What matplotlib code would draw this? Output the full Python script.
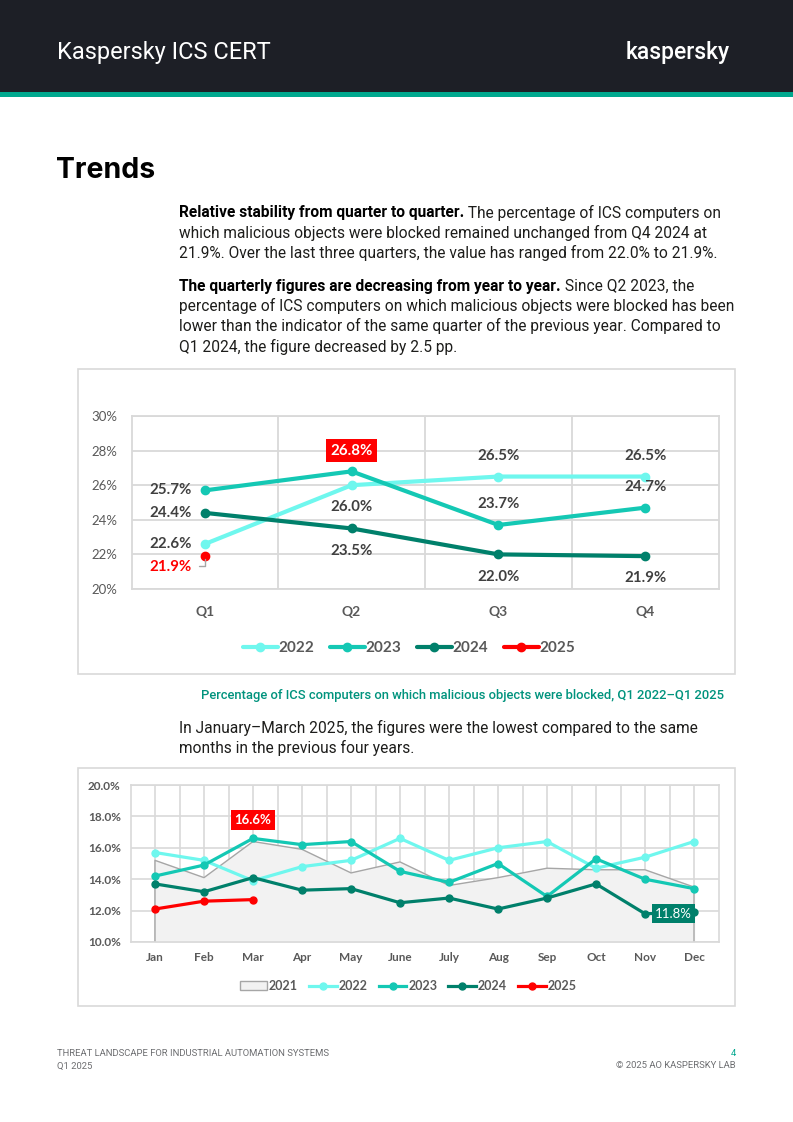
import matplotlib
matplotlib.use("Agg")
import matplotlib.pyplot as plt
from matplotlib.patches import Rectangle, Patch
from matplotlib.lines import Line2D
from matplotlib.ticker import FuncFormatter, FixedLocator

W, H = 793, 1122

# ---- data -------------------------------------------------------------------
quarters = ["Q1", "Q2", "Q3", "Q4"]
q_2022 = [22.6, 26.0, 26.5, 26.5]
q_2023 = [25.7, 26.8, 23.7, 24.7]
q_2024 = [24.4, 23.5, 22.0, 21.9]
q_2025 = [21.9]

months = ["Jan", "Feb", "Mar", "Apr", "May", "June", "July", "Aug", "Sep", "Oct", "Nov", "Dec"]
m_2021 = [15.2, 14.1, 16.4, 15.9, 14.4, 15.1, 13.6, 14.1, 14.7, 14.6, 14.6, 13.5]
m_2022 = [15.7, 15.2, 13.9, 14.8, 15.2, 16.6, 15.2, 16.0, 16.4, 14.7, 15.4, 16.4]
m_2023 = [14.2, 14.9, 16.6, 16.2, 16.4, 14.5, 13.8, 15.0, 12.9, 15.3, 14.0, 13.4]
m_2024 = [13.7, 13.2, 14.1, 13.3, 13.4, 12.5, 12.8, 12.1, 12.8, 13.7, 11.8, 11.9]
m_2025 = [12.1, 12.6, 12.7]

C22, C23, C24, C25 = "#6ff7ee", "#14c8b4", "#00806b", "#ff0000"
GRID = "#d9d9d9"
LBL = "#404040"
TEAL = "#00a88e"
CHART_FONT = ["Lato", "DejaVu Sans"]
BODY_FONT = ["Roboto", "DejaVu Sans"]


def fx(x):
    return x / W


def fy(y):
    return 1 - y / H


fig = plt.figure(figsize=(W / 100, H / 100), dpi=100)
fig.patch.set_facecolor("white")

# ---- header -----------------------------------------------------------------
fig.add_artist(Rectangle((0, fy(92)), 1, 92 / H, transform=fig.transFigure,
                         facecolor="#1d1f26", edgecolor="none"))
fig.add_artist(Rectangle((0, fy(97)), 1, 5 / H, transform=fig.transFigure,
                         facecolor=TEAL, edgecolor="none"))
fig.text(fx(57), fy(52), "Kaspersky ICS CERT", color="white", fontsize=16.9,
         family=BODY_FONT, va="center", ha="left")
fig.text(fx(730), fy(52), "kaspersky", color="white", fontsize=16.5,
         family=BODY_FONT, va="center", ha="right", weight="medium")

fig.text(fx(56), fy(170), "Trends", color="black", fontsize=20.5,
         family=["Inter", "DejaVu Sans"], weight="bold", va="center", ha="left")

# ---- body text --------------------------------------------------------------
renderer = fig.canvas.get_renderer()
BODY_SIZE = 11.2


def body_line(y, text, bold_prefix=None):
    x = fx(179)
    if bold_prefix:
        t = fig.text(x, fy(y), bold_prefix, fontsize=BODY_SIZE, family=BODY_FONT,
                     weight="bold", va="center", ha="left", color="black")
        bb = t.get_window_extent(renderer=renderer)
        x = bb.x1 / W
    fig.text(x, fy(y), text, fontsize=BODY_SIZE, family=BODY_FONT,
             va="center", ha="left", color="#1d1d1b")


body_line(213, " The percentage of ICS computers on", "Relative stability from quarter to quarter.")
body_line(233, "which malicious objects were blocked remained unchanged from Q4 2024 at")
body_line(253, "21.9%. Over the last three quarters, the value has ranged from 22.0% to 21.9%.")
body_line(286, " Since Q2 2023, the", "The quarterly figures are decreasing from year to year.")
body_line(306, "percentage of ICS computers on which malicious objects were blocked has been")
body_line(326, "lower than the indicator of the same quarter of the previous year. Compared to")
body_line(347, "Q1 2024, the figure decreased by 2.5 pp.")
body_line(728, "In January\u2013March 2025, the figures were the lowest compared to the same")
body_line(748, "months in the previous four years.")

fig.text(fx(724), fy(695),
         "Percentage of ICS computers on which malicious objects were blocked, Q1 2022\u2013Q1 2025",
         color="#00937d", fontsize=9.4, family=BODY_FONT, weight="medium",
         va="center", ha="right")

# chart frames
for y0, y1 in [(369, 674), (768, 1006)]:
    fig.add_artist(Rectangle((fx(78), fy(y1)), (735 - 78) / W, (y1 - y0) / H,
                             transform=fig.transFigure, facecolor="none",
                             edgecolor=GRID, linewidth=1.2))

# ---- chart 1: quarterly -----------------------------------------------------
ax1 = fig.add_axes([fx(131.5), fy(589), (718.5 - 131.5) / W, (589 - 416) / H])
xq = list(range(len(quarters)))
for vals, col, yr in [(q_2022, C22, "2022"), (q_2023, C23, "2023"),
                      (q_2024, C24, "2024"), (q_2025, C25, "2025")]:
    ax1.plot(xq[:len(vals)], vals, color=col, lw=3, marker="o", ms=6, label=yr,
             solid_capstyle="round", zorder=3)
ax1.set_xlim(-0.5, 3.5)
ax1.set_ylim(20, 30)
ax1.set_yticks(range(20, 31, 2))
ax1.yaxis.set_major_formatter(FuncFormatter(lambda v, p: f"{v:.0f}%"))
ax1.set_xticks(xq)
ax1.set_xticklabels(quarters)
ax1.xaxis.set_minor_locator(FixedLocator([0.5, 1.5, 2.5]))
ax1.grid(True, axis="y", which="major", color=GRID, lw=1.3)
ax1.grid(True, axis="x", which="minor", color=GRID, lw=1.3)
ax1.set_axisbelow(True)
for s in ax1.spines.values():
    s.set_color(GRID)
    s.set_linewidth(1.3)
ax1.tick_params(which="both", length=0)
ax1.tick_params(axis="y", pad=10, labelsize=9.5, labelcolor="#595959")
ax1.tick_params(axis="x", pad=12, labelsize=10, labelcolor="#595959")
for lab in ax1.get_yticklabels() + ax1.get_xticklabels():
    lab.set_family(CHART_FONT)
for lab in ax1.get_xticklabels():
    lab.set_weight("bold")


def qlabel(i, v, dx, dy, color=LBL, box=None, ha="center"):
    kw = dict(fontsize=10.8, family=CHART_FONT, weight="bold", color=color,
              ha=ha, va="center", zorder=5)
    if box:
        kw["bbox"] = dict(boxstyle="square,pad=0.3", fc=box, ec="none")
    ax1.annotate(f"{v:.1f}%", (i, v), xytext=(dx, dy), textcoords="offset points", **kw)


# Q1 labels sit to the left of the points
for vals in (q_2022, q_2023, q_2024):
    qlabel(0, vals[0], -9.5, 0, ha="right")
qlabel(0, q_2025[0], -9.5, -7.5, color=C25, ha="right")
ax1.annotate("", (0, q_2025[0]), xytext=(-6, -7), textcoords="offset points",
             arrowprops=dict(arrowstyle="-", color="#a6a6a6", lw=1,
                             connectionstyle="angle,angleA=0,angleB=90,rad=0"))
# other quarters
qlabel(1, q_2023[1], 0, 15, color="white", box=C25)
qlabel(1, q_2022[1], 0, -16)
qlabel(1, q_2024[1], 0, -16)
qlabel(2, q_2022[2], 0, 15)
qlabel(2, q_2023[2], 0, 15)
qlabel(2, q_2024[2], 0, -16)
qlabel(3, q_2022[3], 0, 15)
qlabel(3, q_2023[3], 0, 15)
qlabel(3, q_2024[3], 0, -16)

leg1 = fig.legend(*ax1.get_legend_handles_labels(), loc="center",
                  bbox_to_anchor=(fx(409), fy(648)), ncol=4, frameon=False,
                  handlelength=2.3, handletextpad=0.05, columnspacing=1.0,
                  prop=dict(family=CHART_FONT, size=11, weight="bold"))
for t in leg1.get_texts():
    t.set_color("#595959")

# ---- chart 2: monthly -------------------------------------------------------
ax2 = fig.add_axes([fx(130.5), fy(942), (718.5 - 130.5) / W, (942 - 785) / H])
xm = list(range(len(months)))
ax2.fill_between(xm, 10, m_2021, color="#f2f2f2", zorder=1)
ax2.plot([xm[0]] + xm + [xm[-1]], [10] + m_2021 + [10], color="#a6a6a6", lw=1, zorder=2)
for vals, col in [(m_2022, C22), (m_2023, C23), (m_2024, C24), (m_2025, C25)]:
    ax2.plot(xm[:len(vals)], vals, color=col, lw=2.3, marker="o", ms=5,
             solid_capstyle="round", zorder=3)
ax2.set_xlim(-0.5, 11.5)
ax2.set_ylim(10, 20)
ax2.set_yticks(range(10, 21, 2))
ax2.yaxis.set_major_formatter(FuncFormatter(lambda v, p: f"{v:.1f}%"))
ax2.set_xticks(xm)
ax2.set_xticklabels(months)
ax2.xaxis.set_minor_locator(FixedLocator([i + 0.5 for i in range(11)]))
ax2.grid(True, axis="y", which="major", color=GRID, lw=1.2)
ax2.grid(True, axis="x", which="both", color=GRID, lw=1.2)
ax2.set_axisbelow(True)
for s in ax2.spines.values():
    s.set_color(GRID)
    s.set_linewidth(1.2)
ax2.tick_params(which="both", length=0)
ax2.tick_params(axis="y", pad=7, labelsize=8.5, labelcolor="#595959")
ax2.tick_params(axis="x", pad=7, labelsize=8.5, labelcolor="#595959")
for lab in ax2.get_yticklabels() + ax2.get_xticklabels():
    lab.set_family(CHART_FONT)
    lab.set_weight("bold")

ax2.annotate(f"{m_2023[2]:.1f}%", (2, m_2023[2]), xytext=(0, 13), textcoords="offset points",
             fontsize=9.5, family=CHART_FONT, weight="bold", color="white",
             ha="center", va="center", zorder=5,
             bbox=dict(boxstyle="square,pad=0.3", fc=C25, ec="none"))
ax2.annotate(f"{m_2024[10]:.1f}%", (10, m_2024[10]), xytext=(20.5, 0), textcoords="offset points",
             fontsize=9.5, family=CHART_FONT, weight="normal", color="white",
             ha="center", va="center", zorder=5,
             bbox=dict(boxstyle="square,pad=0.25", fc=C24, ec="none"))

handles2 = [Patch(facecolor="#f2f2f2", edgecolor="#a6a6a6", lw=1)]
labels2 = ["2021", "2022", "2023", "2024", "2025"]
for col in (C22, C23, C24, C25):
    handles2.append(Line2D([], [], color=col, lw=2.3, marker="o", ms=5))
leg2 = fig.legend(handles2, labels2, loc="center", bbox_to_anchor=(fx(408), fy(986)),
                  ncol=5, frameon=False, handlelength=2.2, handletextpad=0.15,
                  columnspacing=0.9, prop=dict(family=CHART_FONT, size=9, weight="bold"))
for t in leg2.get_texts():
    t.set_color("#595959")

# ---- footer -----------------------------------------------------------------
FOOT = "#6d6e71"
fig.text(fx(57), fy(1054), "THREAT LANDSCAPE FOR INDUSTRIAL AUTOMATION SYSTEMS",
         fontsize=6.8, color=FOOT, family=BODY_FONT, va="center", ha="left")
fig.text(fx(57), fy(1066), "Q1 2025", fontsize=6.8, color=FOOT, family=BODY_FONT,
         va="center", ha="left")
fig.text(fx(736), fy(1054), "4", fontsize=6.8, color=TEAL, family=BODY_FONT,
         va="center", ha="right")
fig.text(fx(736), fy(1066), "\u00a9 2025 AO KASPERSKY LAB", fontsize=6.8, color=FOOT,
         family=BODY_FONT, va="center", ha="right")

fig.savefig("out.png", dpi=100)
